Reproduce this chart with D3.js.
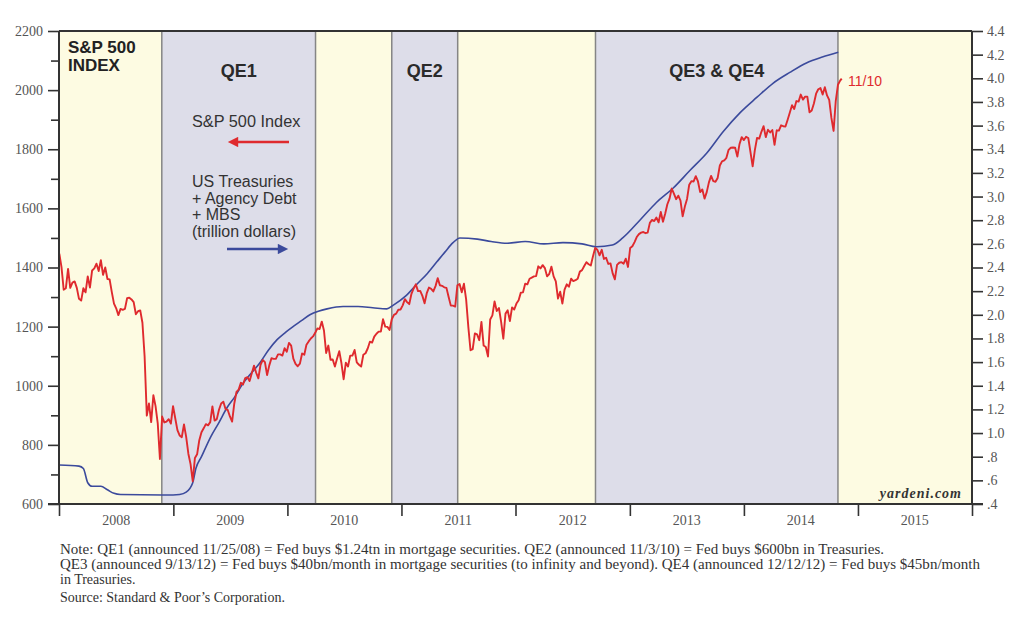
<!DOCTYPE html>
<html><head><meta charset="utf-8">
<script src="https://cdn.jsdelivr.net/npm/d3@7"></script>
<style>body{margin:0;background:#fff}</style>
</head><body>
<svg id="c" width="1024" height="640"></svg>
<script>
// ---------- DATA ----------
const sp500WeekStart = "2008-01-02"; // weekly observations from this date
const sp2008 = [1447,1401,1325,1330,1395,1331,1349,1353,1331,1294,1288,1330,1316,1370,1332,1390,1397,1413,1388,1425,1375,1400,1361,1360,1317,1278,1262,1239,1260,1257,1260,1296,1298,1292,1283,1242,1252,1255,1213,1099,899,940,877,968,931,873,752,896,876,879,887,872];
const sp2009 = [931,890,850,832,826,869,827,770,735,677,756,768,816,843,856,870,866,877,930,882,887,919,940,946,921,918,896,879,940,979,987,1010,1004,1026,1029,1016,1042,1068,1044,1025,1071,1087,1080,1036,1069,1093,1091,1091,1106,1106,1102,1127];
const sp2010 = [1115,1145,1136,1092,1074,1066,1075,1109,1105,1139,1150,1160,1167,1179,1194,1192,1217,1187,1111,1136,1088,1089,1065,1092,1117,1076,1022,1078,1065,1102,1102,1121,1079,1071,1065,1105,1110,1126,1149,1146,1166,1176,1183,1183,1225,1200,1199,1189,1225,1240,1244,1257,1258];
const sp2011 = [1272,1293,1283,1276,1311,1329,1343,1320,1321,1304,1279,1313,1332,1328,1319,1337,1364,1340,1338,1333,1331,1300,1271,1271,1268,1340,1344,1316,1345,1292,1199,1120,1124,1177,1174,1154,1216,1136,1131,1099,1224,1238,1285,1253,1263,1216,1159,1244,1255,1219,1265,1258];
const sp2012 = [1278,1289,1315,1316,1345,1343,1362,1366,1370,1371,1404,1397,1408,1398,1370,1378,1403,1370,1353,1295,1318,1278,1325,1343,1335,1362,1354,1357,1362,1386,1391,1405,1418,1411,1407,1438,1466,1460,1441,1460,1429,1433,1412,1414,1380,1360,1409,1416,1418,1413,1430,1402];
const sp2013 = [1466,1472,1486,1503,1513,1518,1520,1516,1518,1551,1561,1557,1569,1553,1588,1555,1582,1614,1633,1667,1650,1631,1643,1626,1573,1606,1632,1680,1692,1691,1709,1691,1655,1664,1633,1655,1688,1710,1692,1690,1703,1745,1759,1762,1771,1798,1805,1806,1805,1775,1818,1841];
const sp2014 = [1831,1842,1838,1790,1742,1797,1838,1836,1859,1878,1841,1866,1857,1865,1815,1864,1863,1881,1878,1877,1900,1924,1949,1936,1963,1961,1985,1968,1978,1978,1925,1931,1955,1988,2003,2007,1985,2010,1982,1967,1906,1862,1964,2018,2032];
const sp500LastDate = "2014-11-10";
const sp500LastValue = 2039;

const fedDates = ["2008-01-02","2008-03-05","2008-03-19","2008-04-02","2008-04-16","2008-05-14","2008-06-04","2008-06-25","2008-07-16","2008-12-31","2009-01-21","2009-02-11","2009-03-04","2009-03-14","2009-04-01","2009-05-01","2009-05-25","2009-06-23","2009-07-15","2009-08-12","2009-09-05","2009-10-04","2009-11-01","2009-11-29","2009-12-25","2010-01-19","2010-02-15","2010-03-14","2010-04-10","2010-05-08","2010-06-28","2010-08-15","2010-10-01","2010-11-15","2010-12-05","2011-01-15","2011-02-20","2011-03-25","2011-04-25","2011-05-20","2011-06-15","2011-07-07","2011-09-01","2011-10-15","2011-12-05","2012-02-01","2012-04-01","2012-06-01","2012-08-01","2012-09-16","2012-11-06","2012-12-09","2013-02-02","2013-03-27","2013-05-19","2013-07-12","2013-09-05","2013-10-27","2013-12-20","2014-02-12","2014-04-05","2014-05-28","2014-07-20","2014-09-09","2014-10-30"];
const fedValues = [0.73,0.72,0.70,0.58,0.55,0.55,0.52,0.49,0.48,0.476,0.48,0.50,0.58,0.70,0.80,0.97,1.08,1.22,1.30,1.42,1.50,1.59,1.70,1.79,1.85,1.90,1.95,2.00,2.03,2.05,2.07,2.07,2.06,2.05,2.08,2.16,2.26,2.35,2.45,2.53,2.61,2.65,2.64,2.62,2.605,2.62,2.60,2.61,2.60,2.576,2.59,2.65,2.80,2.95,3.07,3.22,3.37,3.55,3.71,3.84,3.96,4.05,4.13,4.18,4.22];

const yearLabels = ["2008","2009","2010","2011","2012","2013","2014","2015"];
const leftTicks = [600,800,1000,1200,1400,1600,1800,2000,2200];
const leftMinorTicks = [700,900,1100,1300,1500,1700,1900,2100];
const rightTicks = [0.4,0.6,0.8,1.0,1.2,1.4,1.6,1.8,2.0,2.2,2.4,2.6,2.8,3.0,3.2,3.4,3.6,3.8,4.0,4.2,4.4];
const bandDates = ["2008-01-01","2008-11-25","2010-04-01","2010-12-01","2011-06-30","2012-09-13","2014-10-29","2016-01-01"];
const bandKinds = ["off","qe","off","qe","off","qe","off"];
const qeLabels = ["QE1","QE2","QE3 & QE4"];
const noteLines = [
 "Note: QE1 (announced 11/25/08) = Fed buys $1.24tn in mortgage securities. QE2 (announced 11/3/10) = Fed buys $600bn in Treasuries.",
 "QE3 (announced 9/13/12) = Fed buys $40bn/month in mortgage securities (to infinity and beyond). QE4 (announced 12/12/12) = Fed buys $45bn/month",
 "in Treasuries.",
 "Source: Standard & Poor\u2019s Corporation."
];

// ---------- BUILD ----------
const parse = d3.timeParse("%Y-%m-%d");
const spValues = [].concat(sp2008, sp2009, sp2010, sp2011, sp2012, sp2013, sp2014);
const start = parse(sp500WeekStart);
const spData = spValues.map((v, i) => ({d: d3.timeDay.offset(start, 7 * i), v}));
spData.push({d: parse(sp500LastDate), v: sp500LastValue});
const fedData = fedDates.map((d, i) => ({d: parse(d), v: fedValues[i]}));

const L = 59, R = 972, T = 31, B = 504;
const x = d3.scaleTime().domain([new Date(2008,0,1), new Date(2016,0,1)]).range([L, R]);
const yL = d3.scaleLinear().domain([600, 2200]).range([B, T]);
const yR = d3.scaleLinear().domain([0.4, 4.4]).range([B, T]);

const svg = d3.select("#c");
const serif = "'Liberation Serif','Times New Roman',serif";
const sans = "'Liberation Sans',Arial,Helvetica,sans-serif";

// bands
const bands = bandKinds.map((k, i) => ({k, a: parse(bandDates[i]), b: parse(bandDates[i+1])}));
svg.append("g").selectAll("rect").data(bands).join("rect")
  .attr("x", d => x(d.a)).attr("y", T)
  .attr("width", d => x(d.b) - x(d.a)).attr("height", B - T)
  .attr("fill", d => d.k === "qe" ? "#dddde9" : "#fdfbe2");
svg.append("g").selectAll("line").data(bandDates.slice(1, -1)).join("line")
  .attr("x1", d => x(parse(d))).attr("x2", d => x(parse(d)))
  .attr("y1", T).attr("y2", B)
  .attr("stroke", "#858585").attr("stroke-width", 1.5);

// QE labels
const qeBands = bands.filter(b => b.k === "qe");
svg.append("g").selectAll("text").data(qeBands).join("text")
  .attr("x", d => (x(d.a) + x(d.b)) / 2).attr("y", 77)
  .attr("text-anchor", "middle").attr("font-family", sans)
  .attr("font-weight", "bold").attr("font-size", 18).attr("fill", "#2a2a2a")
  .text((d, i) => qeLabels[i]);

svg.append("text").attr("x", 68).attr("y", 53).attr("font-family", sans)
  .attr("font-weight", "bold").attr("font-size", 17).attr("fill", "#222").text("S&P 500");
svg.append("text").attr("x", 68).attr("y", 71).attr("font-family", sans)
  .attr("font-weight", "bold").attr("font-size", 17).attr("fill", "#222").text("INDEX");

// lines
const lineFed = d3.line().x(d => x(d.d)).y(d => yR(d.v)).curve(d3.curveMonotoneX);
const lineSp = d3.line().x(d => x(d.d)).y(d => yL(d.v));
svg.append("path").datum(fedData).attr("d", lineFed)
  .attr("fill", "none").attr("stroke", "#3b4a9c").attr("stroke-width", 1.6);
svg.append("path").datum(spData).attr("d", lineSp)
  .attr("fill", "none").attr("stroke", "#df2a2e").attr("stroke-width", 1.9)
  .attr("stroke-linejoin", "round");

// legend
const defs = svg.append("defs");
function marker(id, color) {
  defs.append("marker").attr("id", id).attr("viewBox", "0 0 10 10")
    .attr("refX", 5).attr("refY", 5).attr("markerWidth", 5.5).attr("markerHeight", 4.5)
    .attr("markerUnits", "strokeWidth").attr("orient", "auto-start-reverse")
    .append("path").attr("d", "M0,0L10,5L0,10z").attr("fill", color);
}
marker("arR", "#df2a2e"); marker("arB", "#3b4a9c");
svg.append("text").attr("x", 192).attr("y", 127).attr("font-family", sans)
  .attr("font-size", 16.3).attr("fill", "#333").text("S&P 500 Index");
svg.append("line").attr("x1", 233).attr("x2", 289).attr("y1", 142).attr("y2", 142)
  .attr("stroke", "#df2a2e").attr("stroke-width", 2.3).attr("marker-start", "url(#arR)");
["US Treasuries", "+ Agency Debt", "+ MBS", "(trillion dollars)"].forEach((t, i) => {
  svg.append("text").attr("x", 192).attr("y", 187 + i * 16.7).attr("font-family", sans)
    .attr("font-size", 16).attr("fill", "#333").text(t);
});
svg.append("line").attr("x1", 227).attr("x2", 283).attr("y1", 249).attr("y2", 249)
  .attr("stroke", "#3b4a9c").attr("stroke-width", 2.3).attr("marker-end", "url(#arB)");

svg.append("text").attr("x", 848).attr("y", 86).attr("font-family", sans)
  .attr("font-size", 14).attr("fill", "#df2a2e").text("11/10");

svg.append("text").attr("x", 962).attr("y", 498).attr("text-anchor", "end")
  .attr("font-family", serif).attr("font-weight", "bold").attr("font-style", "italic")
  .attr("font-size", 14).attr("letter-spacing", 1).attr("fill", "#333").text("yardeni.com");

// axes
const axL = svg.append("g").attr("transform", `translate(${L},0)`)
  .call(d3.axisLeft(yL).tickValues(leftTicks).tickSize(11).tickPadding(5).tickFormat(d3.format("d")));
const axLm = svg.append("g").attr("transform", `translate(${L},0)`)
  .call(d3.axisLeft(yL).tickValues(leftMinorTicks).tickSize(8).tickFormat(""));
const fmtR = v => { const s = d3.format(".1f")(v); return v < 1 ? s.replace(/^0/, "") : s; };
const axR = svg.append("g").attr("transform", `translate(${R},0)`)
  .call(d3.axisRight(yR).tickValues(rightTicks).tickSize(11).tickPadding(4).tickFormat(fmtR));
const yearStarts = d3.range(2008, 2017).map(y => new Date(y, 0, 1));
const axB = svg.append("g").attr("transform", `translate(0,${B})`)
  .call(d3.axisBottom(x).tickValues(yearStarts).tickSize(12).tickFormat(""));
[axL, axLm, axR, axB].forEach(g => {
  g.select(".domain").remove();
  g.selectAll(".tick line").attr("stroke", "#333").attr("stroke-width", 1.6);
  g.selectAll("text").attr("font-family", serif).attr("font-size", 14).attr("fill", "#555");
});
svg.append("g").selectAll("text").data(yearLabels).join("text")
  .attr("x", d => x(new Date(+d, 6, 2))).attr("y", 525).attr("text-anchor", "middle")
  .attr("font-family", serif).attr("font-size", 14).attr("fill", "#555").text(d => d);

// frame
svg.append("line").attr("x1", L).attr("x2", R).attr("y1", T).attr("y2", T).attr("stroke", "#333").attr("stroke-width", 2);
svg.append("line").attr("x1", L).attr("x2", L).attr("y1", T).attr("y2", B).attr("stroke", "#333").attr("stroke-width", 2);
svg.append("line").attr("x1", R).attr("x2", R).attr("y1", T).attr("y2", B).attr("stroke", "#333").attr("stroke-width", 2);
svg.append("line").attr("x1", L - 11).attr("x2", R + 11).attr("y1", B).attr("y2", B).attr("stroke", "#333").attr("stroke-width", 2);

// notes
const noteWidths = [824, 920, null, null];
noteLines.forEach((t, i) => {
  const el = svg.append("text").attr("x", 60).attr("y", 554 + i * 15 + (i === 3 ? 3 : 0))
    .attr("font-family", serif).attr("font-size", 14).attr("fill", "#333").text(t);
  if (noteWidths[i]) el.attr("textLength", noteWidths[i]).attr("lengthAdjust", "spacingAndGlyphs");
});
</script>
</body></html>
